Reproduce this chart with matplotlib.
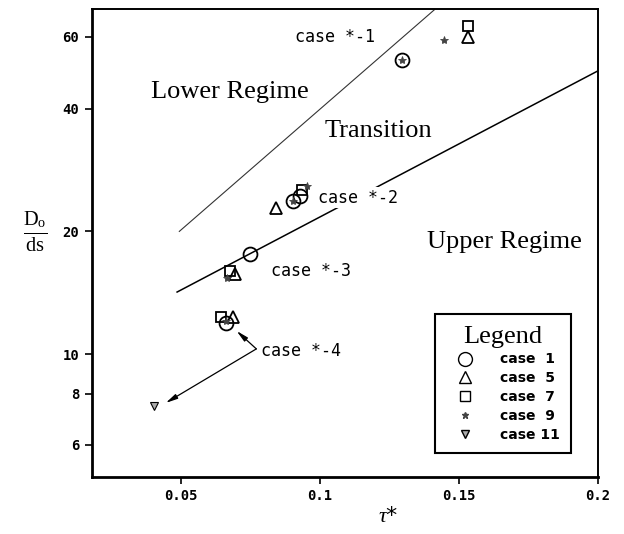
"""Regime map of Do/ds against tau* with case markers."""

import matplotlib

matplotlib.use("Agg")
import matplotlib.pyplot as plt
from matplotlib.lines import Line2D

# measured points per case (tau*, Do/ds)
case1_x = [0.0903, 0.0929, 0.0750, 0.0664, 0.1296]
case1_y = [23.8, 24.4, 17.6, 11.9, 52.6]
case5_x = [0.0842, 0.0697, 0.0687, 0.1535]
case5_y = [22.85, 15.7, 12.3, 60.0]
case7_x = [0.0935, 0.0678, 0.0644, 0.1535]
case7_y = [25.3, 16.0, 12.3, 63.7]
case9_x = [0.0903, 0.0953, 0.0666, 0.0664, 0.1448, 0.1296]
case9_y = [23.8, 25.9, 15.4, 12.06, 58.9, 52.6]
case11_x = [0.0403]
case11_y = [7.47]

# regime boundaries
upper_x = [0.0495, 0.1413]
upper_y = [20.0, 70.0]
lower_x = [0.0487, 0.2]
lower_y = [14.2, 49.5]

x_ticks = [0.05, 0.1, 0.15, 0.2]
x_tick_labels = ["0.05", "0.1", "0.15", "0.2"]
y_ticks = [6, 8, 10, 20, 40, 60]

legend_labels = ["case  1", "case  5", "case  7", "case  9", "case 11"]

# case *-4 pointer: text anchor and arrow tips
pointer_from = (0.0772, 10.3)
pointer_tips = [(0.0701, 11.4), (0.0446, 7.59)]


def main():
    plt.rcParams["mathtext.fontset"] = "custom"
    plt.rcParams["mathtext.rm"] = "Liberation Serif"
    plt.rcParams["mathtext.it"] = "Liberation Serif:italic"

    fig = plt.figure(figsize=(6.24, 5.34), dpi=100)
    ax = fig.add_axes([0.147, 0.107, 0.811, 0.876])
    ax.set_yscale("log")
    ax.set_xlim(0.018, 0.2)
    ax.set_ylim(5.0, 70.2)

    ax.plot(upper_x, upper_y, color="#333333", lw=0.8)
    ax.plot(lower_x, lower_y, color="black", lw=1.1)

    style = dict(linestyle="none", markerfacecolor="none", markeredgecolor="black")
    ax.plot(case1_x, case1_y, marker="o", markersize=10, markeredgewidth=1.3, **style)
    ax.plot(case5_x, case5_y, marker="^", markersize=8, markeredgewidth=1.3, **style)
    ax.plot(case7_x, case7_y, marker="s", markersize=7, markeredgewidth=1.3, **style)
    ax.plot(case9_x, case9_y, marker="*", markersize=6, linestyle="none",
            color="#444444", markeredgewidth=0.6)
    ax.plot(case11_x, case11_y, marker="v", markersize=6, linestyle="none",
            markerfacecolor="#aaaaaa", markeredgecolor="black", markeredgewidth=0.8)

    serif = dict(family="Liberation Serif", fontsize=19)
    ax.text(0.0676, 44.0, "Lower Regime", ha="center", va="center", **serif)
    ax.text(0.121, 35.3, "Transition", ha="center", va="center", **serif)
    ax.text(0.1665, 18.8, "Upper Regime", ha="center", va="center", **serif)

    mono = dict(family="DejaVu Sans Mono", fontsize=12, va="center", ha="left")
    ax.text(0.0912, 59.9, "case *-1", **mono)
    ax.text(0.0995, 24.2, "case *-2",
            bbox=dict(facecolor="white", edgecolor="none", pad=1), **mono)
    ax.text(0.0823, 15.96, "case *-3", **mono)
    ax.text(0.0790, 10.17, "case *-4", **mono)
    for tip in pointer_tips:
        ax.annotate("", xy=tip, xytext=pointer_from,
                    arrowprops=dict(arrowstyle="-|>,head_length=0.7,head_width=0.15",
                                    color="black", lw=0.9, shrinkA=0, shrinkB=0))

    ax.set_xticks(x_ticks)
    ax.set_xticklabels(x_tick_labels)
    ax.set_yticks(y_ticks)
    ax.set_yticklabels([str(v) for v in y_ticks])
    ax.minorticks_off()
    ax.tick_params(direction="out", length=5, width=1.2, pad=4)
    for label in ax.get_xticklabels() + ax.get_yticklabels():
        label.set_family("DejaVu Sans Mono")
        label.set_fontweight("bold")
        label.set_fontsize(10)
    for name, spine in ax.spines.items():
        spine.set_linewidth(2.0 if name in ("left", "bottom") else 1.4)

    handles = [
        Line2D([], [], marker="o", markersize=10, **style),
        Line2D([], [], marker="^", markersize=8, **style),
        Line2D([], [], marker="s", markersize=7, **style),
        Line2D([], [], marker="*", markersize=5, linestyle="none", color="#444444"),
        Line2D([], [], marker="v", markersize=6, linestyle="none",
               markerfacecolor="#aaaaaa", markeredgecolor="black"),
    ]
    legend = ax.legend(handles, legend_labels, title="Legend", loc="lower right",
                       bbox_to_anchor=(0.947, 0.051), borderaxespad=0,
                       fancybox=False, edgecolor="black", framealpha=1,
                       handlelength=2.7, handletextpad=1.2, labelspacing=0.35,
                       borderpad=0.8,
                       prop=dict(family="DejaVu Sans", weight="bold", size=10),
                       title_fontproperties=dict(family="Liberation Serif", size=19))
    legend.get_frame().set_linewidth(1.5)

    fig.text(0.056, 0.566, r"$\frac{\mathrm{D_o}}{\mathrm{ds}}$", fontsize=21,
             ha="center", va="center")
    fig.text(0.622, 0.034, r"$\tau$*", fontsize=16, ha="center", va="center")

    fig.savefig("out.png", dpi=100)


if __name__ == "__main__":
    main()
